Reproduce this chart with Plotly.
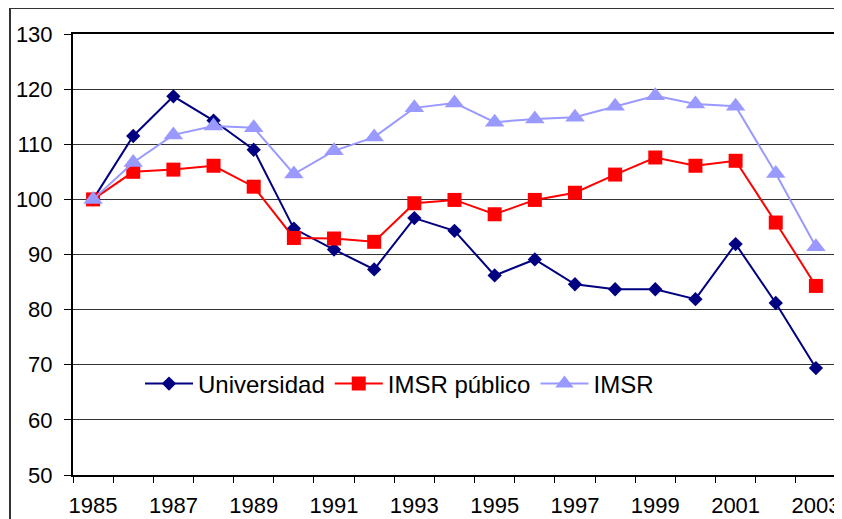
import plotly.graph_objects as go

years = list(range(1985, 2004))
universidad = [100, 111.5, 118.7, 114.3, 109.0, 94.7, 90.9, 87.3, 96.6, 94.3,
               86.2, 89.1, 84.6, 83.7, 83.7, 81.9, 91.9, 81.2, 69.4]
imsr_publico = [100, 105.0, 105.4, 106.1, 102.3, 93.0, 92.9, 92.3, 99.3, 99.9,
                97.3, 99.9, 101.2, 104.5, 107.6, 106.1, 107.0, 95.8, 84.3]
imsr = [100, 106.7, 111.7, 113.3, 113.0, 104.6, 108.8, 111.3, 116.6, 117.5,
        114.0, 114.6, 114.9, 116.9, 118.8, 117.3, 116.9, 104.7, 91.4]
x_ticks = [1985, 1987, 1989, 1991, 1993, 1995, 1997, 1999, 2001, 2003]
x_ticklabels = [str(y) for y in x_ticks]
y_ticks = [50, 60, 70, 80, 90, 100, 110, 120, 130]

FONT = "Liberation Sans, Arial, sans-serif"

fig = go.Figure()
fig.add_trace(go.Scatter(x=years, y=universidad, name="Universidad", mode="lines+markers",
                         line=dict(color="#000080", width=2),
                         marker=dict(symbol="diamond", size=11, color="#000080")))
fig.add_trace(go.Scatter(x=years, y=imsr_publico, name="IMSR público", mode="lines+markers",
                         line=dict(color="#FF0000", width=2),
                         marker=dict(symbol="square", size=14, color="#FF0000")))
fig.add_trace(go.Scatter(x=years, y=imsr, name="IMSR", mode="lines+markers",
                         line=dict(color="#9999FF", width=2),
                         marker=dict(symbol="triangle-up", size=17, color="#9999FF")))

# page body has an 8px margin; compensate so that the plot lands where the reference's is
OFF = 8
W, H = 842 - OFF, 519 - OFF
L, R, T, B = 73 - OFF, 6, 34 - OFF, 44
pw = W - L - R
ph = H - T - B

def px_x(p):   # page x pixel -> paper coordinate
    return (p - OFF - L) / pw

def px_y(p):   # page y pixel -> paper coordinate
    return (H - B - (p - OFF)) / ph

fig.update_layout(
    width=W, height=H,
    margin=dict(l=L, r=R, t=T, b=B, autoexpand=False),
    paper_bgcolor="white", plot_bgcolor="white",
    font=dict(family=FONT, size=22, color="black"),
    showlegend=True,
    legend=dict(orientation="h", x=px_x(140), y=px_y(384),
                xanchor="left", yanchor="middle", bgcolor="rgba(0,0,0,0)",
                font=dict(size=24), itemwidth=48, tracegroupgap=0),
    xaxis=dict(range=[1984.5, 2003.5], tickmode="array", tickvals=x_ticks,
               ticktext=x_ticklabels, ticks="", showgrid=False, zeroline=False,
               showline=True, linecolor="black", linewidth=2, mirror=True,
               tickfont=dict(size=22), ticklabelstandoff=10,
               minor=dict(tick0=1984.5, dtick=1, ticks="outside", ticklen=6,
                          tickcolor="black", tickwidth=1, showgrid=False)),
    yaxis=dict(range=[50, 130], tickmode="array", tickvals=y_ticks,
               ticks="outside", ticklen=7, tickcolor="black",
               showgrid=True, gridcolor="#333333", gridwidth=1, zeroline=False,
               showline=True, linecolor="black", linewidth=2, mirror=True,
               tickfont=dict(size=22), ticklabelstandoff=7),
    shapes=[dict(type="rect", xref="paper", yref="paper",
                 x0=px_x(10), x1=px_x(860),
                 y0=px_y(540), y1=px_y(8),
                 line=dict(color="#333333", width=2), layer="below")],
)

fig.write_html("out.html")
